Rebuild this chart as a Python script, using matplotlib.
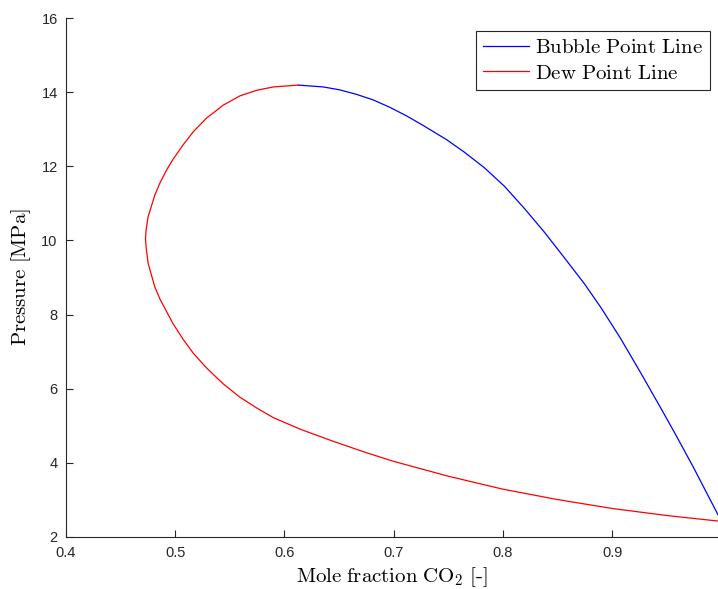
import numpy as np
import matplotlib.pyplot as plt

plt.rcParams['mathtext.fontset'] = 'cm'
plt.rcParams['font.family'] = ['Liberation Sans', 'DejaVu Sans']

# Bubble point line (blue)
bubble_x = [0.6127, 0.6357, 0.6509, 0.666, 0.6813, 0.6966, 0.7118, 0.7271, 0.7484, 0.7648,
            0.7831, 0.8015, 0.8198, 0.8381, 0.8564, 0.8747, 0.8900, 0.9073, 0.9256, 0.9438,
            0.9575, 0.9743, 0.9970]
bubble_p = [14.19, 14.14, 14.06, 13.94, 13.79, 13.59, 13.36, 13.10, 12.72, 12.38,
            11.96, 11.46, 10.86, 10.22, 9.53, 8.83, 8.18, 7.38, 6.46, 5.52,
            4.80, 3.89, 2.60]

# Dew point line (red)
dew_x = [0.6127, 0.5898, 0.5746, 0.5593, 0.544, 0.5287, 0.5165, 0.5073, 0.4983, 0.4921,
         0.486, 0.4813, 0.4752, 0.4733, 0.4728, 0.4733, 0.4752, 0.4813, 0.486, 0.4921,
         0.4983, 0.5073, 0.5165, 0.5287, 0.544, 0.5593, 0.5746, 0.5898, 0.6143, 0.642,
         0.6723, 0.700, 0.750, 0.800, 0.850, 0.900, 0.950, 0.997]
dew_p = [14.19, 14.14, 14.05, 13.90, 13.65, 13.30, 12.93, 12.58, 12.20, 11.90,
         11.55, 11.22, 10.64, 10.28, 10.05, 9.83, 9.38, 8.75, 8.42, 8.08,
         7.74, 7.33, 6.96, 6.56, 6.13, 5.77, 5.48, 5.22, 4.91, 4.61,
         4.30, 4.04, 3.64, 3.29, 3.01, 2.77, 2.58, 2.43]

xticks = [0.4, 0.5, 0.6, 0.7, 0.8, 0.9]
yticks = [2, 4, 6, 8, 10, 12, 14, 16]

fig = plt.figure(figsize=(7.18, 5.89), dpi=100)
ax = fig.add_axes([66 / 718, 1 - 537 / 589, 652 / 718, 519 / 589])

ax.plot(bubble_x, bubble_p, color='blue', lw=0.9, label='Bubble Point Line')
ax.plot(dew_x, dew_p, color='red', lw=0.9, label='Dew Point Line')

ax.set_xlim(0.4, 0.997)
ax.set_ylim(2, 16)
ax.set_xticks(xticks)
ax.set_yticks(yticks)
ax.set_xticklabels([str(t) for t in xticks])
ax.spines['top'].set_visible(False)
ax.spines['right'].set_visible(False)
for s in ['left', 'bottom']:
    ax.spines[s].set_color('#262626')
    ax.spines[s].set_linewidth(0.8)
ax.tick_params(direction='in', length=5, width=0.8, colors='#262626', labelsize=10.5)
ax.tick_params(axis='x', pad=6.5)
ax.tick_params(axis='y', pad=6)

ax.set_xlabel(r'$\mathrm{Mole\ fraction\ CO_2\ [\text{-}]}$', fontsize=15, labelpad=4)
ax.set_ylabel(r'$\mathrm{Pressure\ [MPa]}$', fontsize=15, labelpad=6)

leg = ax.legend(loc='upper right', bbox_to_anchor=(710 / 718, 1 - 31 / 589),
                bbox_transform=fig.transFigure, borderaxespad=0,
                prop={'family': 'serif', 'size': 15}, fancybox=False,
                framealpha=1, edgecolor='#262626', handlelength=2.2,
                handletextpad=0.3, borderpad=0.35, labelspacing=0.3)
for t in leg.get_texts():
    t.set_text(r'$\mathrm{' + t.get_text().replace(' ', r'\ ') + '}$')
leg.get_frame().set_linewidth(0.8)

fig.savefig('out.png', dpi=100)
